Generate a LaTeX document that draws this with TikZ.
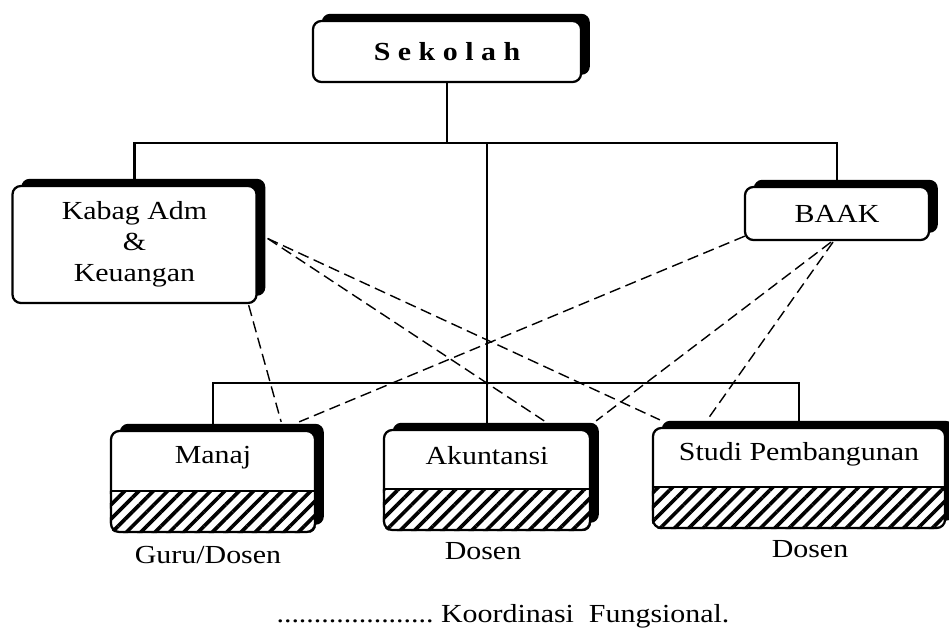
\documentclass[tikz,border=0pt]{standalone}
\usepackage{fontspec}
\setmainfont{Liberation Serif}[FakeStretch=1.15]
\usetikzlibrary{calc,shadows,patterns.meta}

\begin{document}
\begin{tikzpicture}[x=0.025cm, y=-0.025cm, line width=1.6pt,
    font=\fontsize{18.5}{22}\selectfont,
    orgbox/.style={draw, fill=white, rounded corners=6pt, align=center,
      drop shadow={shadow xshift=.22cm, shadow yshift=.18cm, fill=black, opacity=1}},
    hatch/.style={pattern={Lines[angle=45, distance=7.2pt, line width=2.6pt]}},
    koord/.style={line width=1pt, dash pattern=on 8pt off 4pt}]
  \useasboundingbox (0,0) rectangle (949,630);
  % top and first level
  \node[orgbox, minimum width=6.7cm, minimum height=1.525cm] (sekolah) at (447,51.5) {\bfseries S e k o l a h};
  \node[orgbox, minimum width=6.1cm, minimum height=2.925cm] (kabag) at (134.5,244.5) {Kabag Adm\\ \&\\ Keuangan};
  \node[orgbox, minimum width=4.6cm, minimum height=1.325cm] (baak) at (837,213.5) {BAAK};
  % study programmes, lower part hatched
  \node[orgbox, minimum width=5.1cm, minimum height=2.525cm] (manaj) at (213,481.5) {};
  \node[orgbox, minimum width=5.15cm, minimum height=2.5cm] (akun) at (487,480) {};
  \node[orgbox, minimum width=7.3cm, minimum height=2.5cm] (studi) at (799,478) {};
  \foreach \u in {manaj,akun,studi} {
    \begin{scope}
      \clip[rounded corners=6pt] (\u.south west) rectangle (\u.north east);
      \path[hatch] (\u.south west) rectangle ($(\u.south east)+(0,-42)$);
    \end{scope}
    \draw ($(\u.south west)+(0,-42)$) -- ($(\u.south east)+(0,-42)$);
  }
  \node (manajtxt) at ($(manaj.north)+(0,28)$) {Manaj};
  \node (akuntxt) at ($(akun.north)+(0,27)$) {Akuntansi};
  \node (studitxt) at ($(studi.north)+(0,27)$) {Studi Pembangunan};
  \node (manajstaf) at (208,555) {Guru/Dosen};
  \node (akunstaf) at (483,551) {Dosen};
  \node (studistaf) at (810,549) {Dosen};
  % line of command
  \coordinate (bar1) at (0,143);
  \coordinate (bar2) at (0,383);
  \draw (sekolah.south) -- (sekolah.south |- bar1);
  \draw (kabag.north) -- (kabag.north |- bar1) -| (baak.north);
  \draw (akun.north) -- (akun.north |- bar1);
  \draw (manaj.north) -- (manaj.north |- bar2) -| (studi.north);
  % koordinasi fungsional
  \draw[koord] ($(kabag.south east)+(-9,1)$) -- ($(manaj.north east)+(-35,-8)$);
  \draw[koord] ($(kabag.east)+(10,-6)$) -- ($(akun.north east)+(-47,-8)$);
  \draw[koord] ($(kabag.east)+(10,-6)$) -- ($(studi.north west)+(8,-7)$);
  \draw[koord] ($(baak.south west)+(1,-5)$) -- ($(manaj.north east)+(-17,-8)$);
  \draw[koord] ($(baak.south)+(-6,1)$) -- ($(akun.north east)+(5,-8)$);
  \draw[koord] ($(baak.south)+(-4,1)$) -- ($(studi.north)+(-91,-8)$);
  % legend
  \node (legend) at (503,616) {.....................\ Koordinasi\ \ Fungsional.};
\end{tikzpicture}
\end{document}
